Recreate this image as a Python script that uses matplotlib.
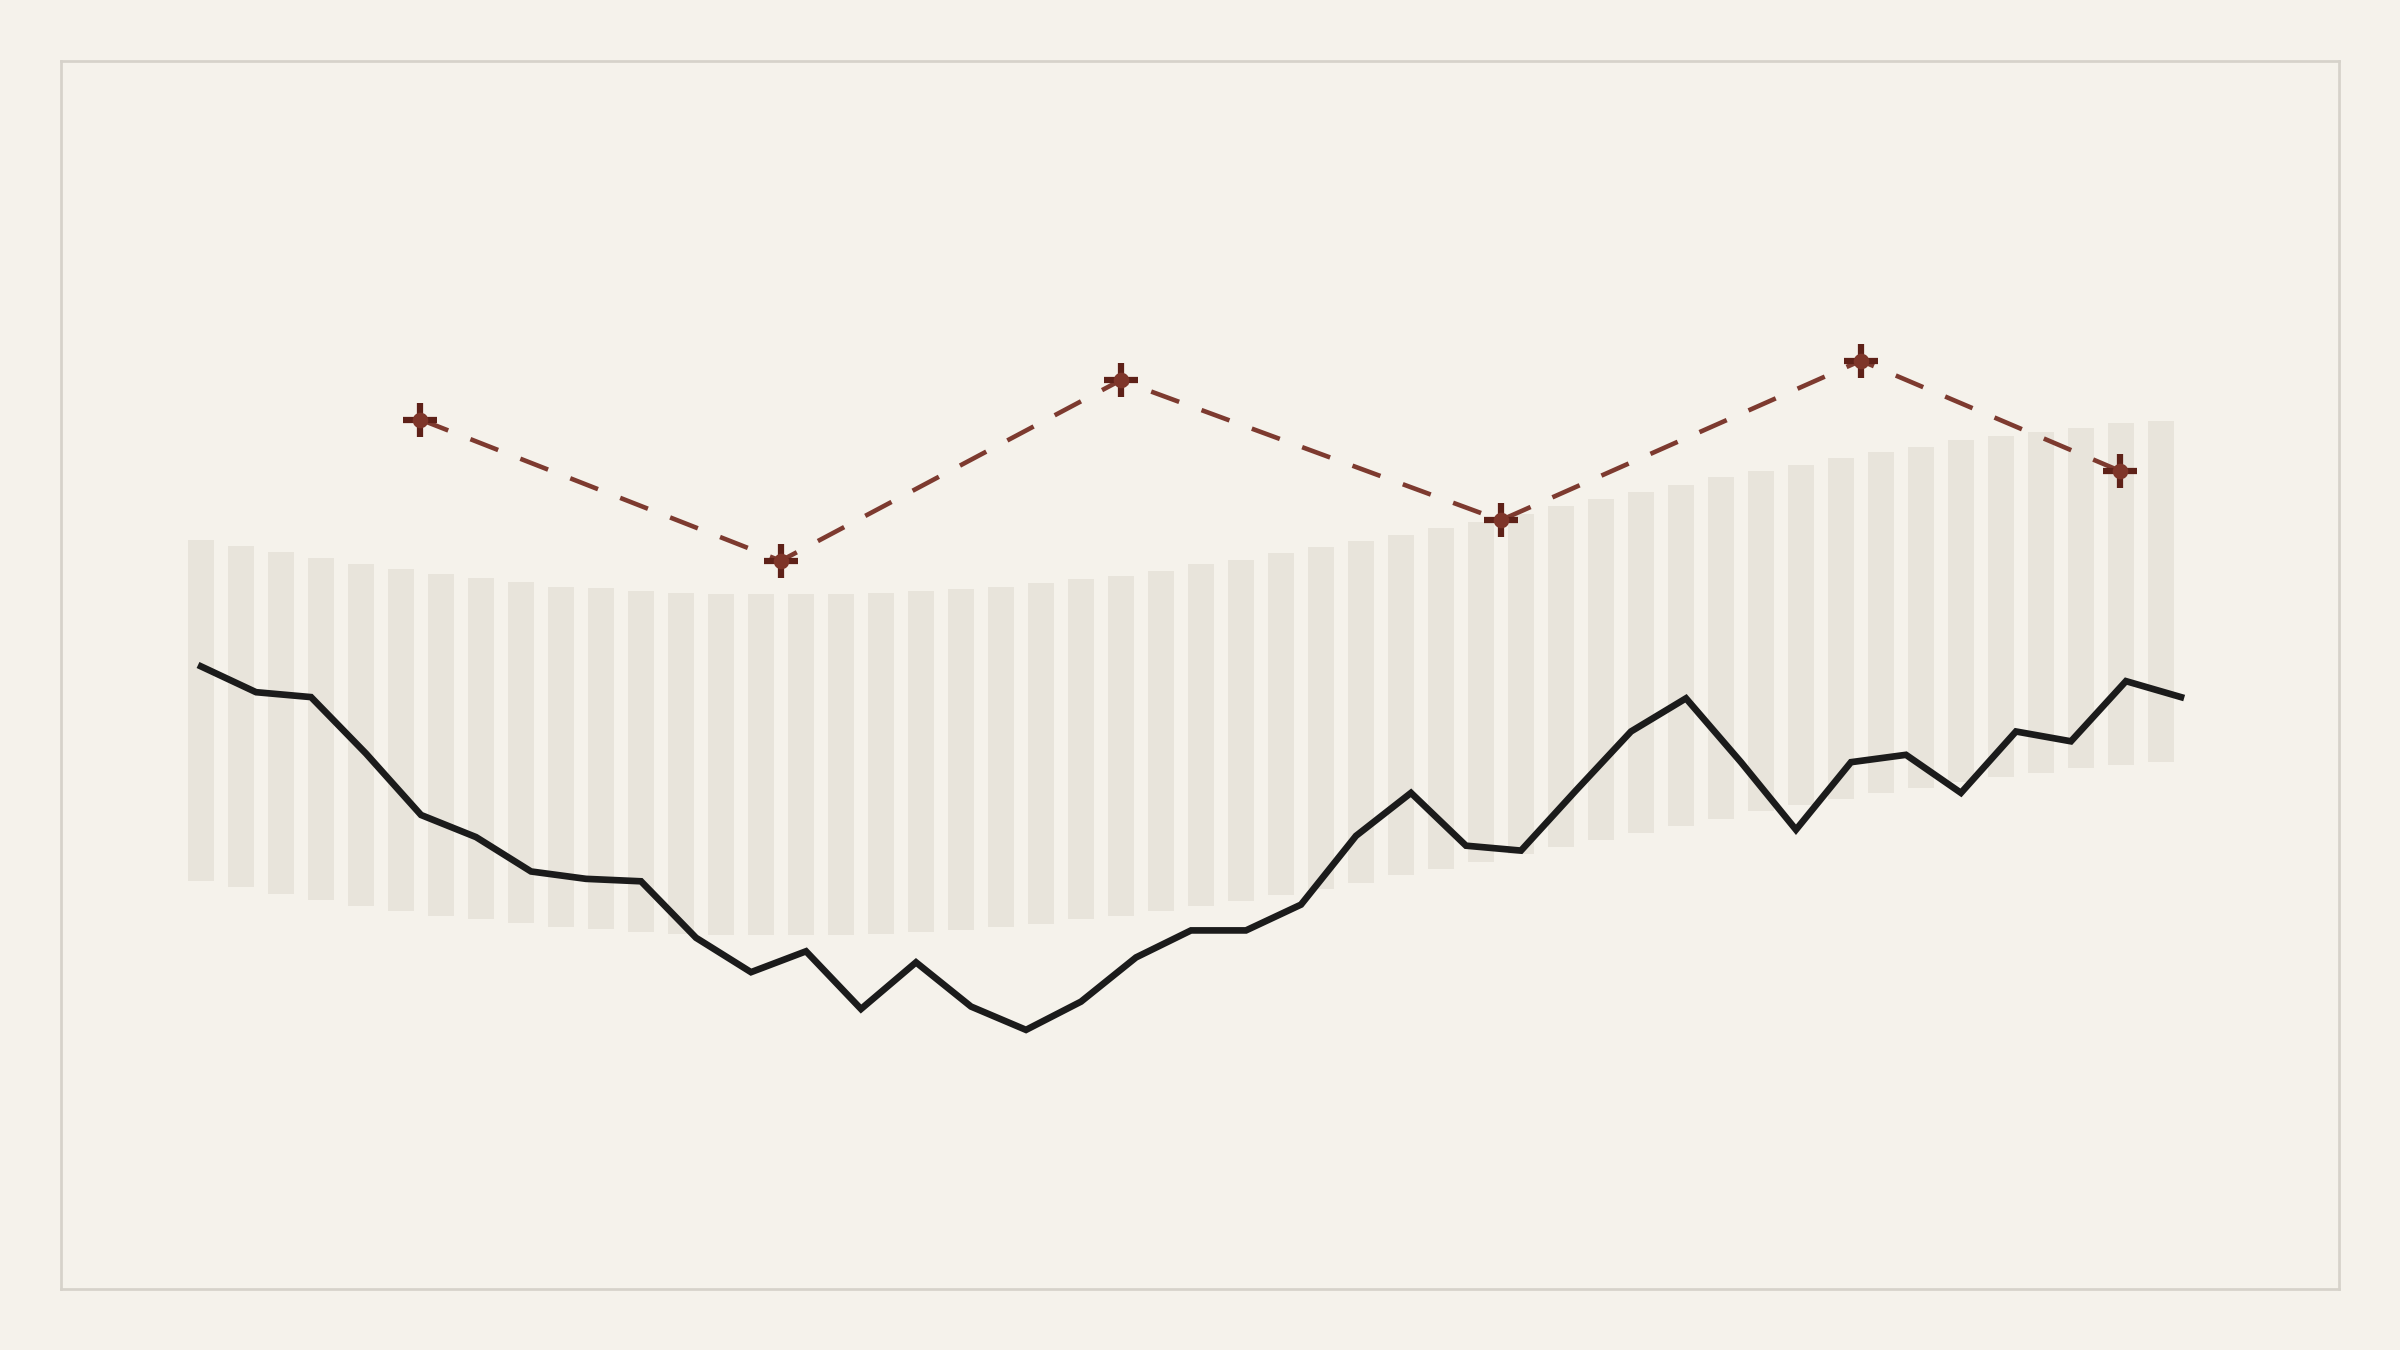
import numpy as np
import matplotlib.pyplot as plt

# Background band (floating bars): lower and upper edge per bar
band_low = [33.2, 32.7, 32.2, 31.7, 31.2, 30.8, 30.4, 30.1, 29.8, 29.5,
            29.3, 29.1, 28.9, 28.8, 28.8, 28.8, 28.8, 28.9, 29.1, 29.2,
            29.5, 29.7, 30.1, 30.4, 30.8, 31.2, 31.6, 32.1, 32.6, 33.1,
            33.7, 34.2, 34.8, 35.4, 36.0, 36.6, 37.1, 37.7, 38.3, 38.9,
            39.4, 39.9, 40.4, 40.8, 41.3, 41.7, 42.0, 42.4, 42.7, 42.9]
band_high = [61.0, 60.5, 60.0, 59.5, 59.0, 58.6, 58.2, 57.9, 57.6, 57.2,
             57.1, 56.8, 56.7, 56.6, 56.6, 56.6, 56.6, 56.7, 56.8, 57.0,
             57.2, 57.5, 57.8, 58.1, 58.5, 59.0, 59.4, 59.9, 60.4, 60.9,
             61.4, 62.0, 62.5, 63.1, 63.8, 64.3, 64.9, 65.5, 66.1, 66.6,
             67.1, 67.7, 68.2, 68.6, 69.1, 69.5, 69.8, 70.1, 70.5, 70.7]

# Main series (black line)
series = [50.7, 48.6, 48.2, 43.6, 38.6, 36.8, 34.0, 33.4, 33.2, 28.6,
          25.8, 27.5, 22.8, 26.6, 23.0, 21.1, 23.4, 27.0, 29.2, 29.2,
          31.3, 36.9, 40.4, 36.1, 35.7, 40.6, 45.4, 48.1, 42.9, 37.4,
          42.9, 43.5, 40.4, 45.4, 44.6, 49.5, 48.2]

# Sparse checkpoints (dashed red line)
check_x = [3.99, 10.54, 16.72, 23.63, 30.18, 34.90]
check_y = [70.8, 59.3, 74.0, 62.6, 75.6, 66.6]

BG = '#f5f2eb'

fig = plt.figure(figsize=(16, 9), dpi=150, facecolor=BG)
ax = fig.add_axes([0.0254, 0.0452, 0.9491, 0.9096])
ax.set_facecolor(BG)

low = np.array(band_low)
high = np.array(band_high)
bar_x = np.linspace(0, 35.64, len(low))
ax.bar(bar_x, high - low, bottom=low, width=0.478, color='#e8e4db',
       linewidth=0, zorder=1)

line_x = np.arange(len(series))
ax.plot(line_x, series, color='#1b1b1b', lw=3.2, solid_joinstyle='miter',
        zorder=3)

ax.plot(check_x, check_y, color='#7d3a2f', lw=2.2, ls=(0, (6.5, 5.2)),
        zorder=4)
ax.plot(check_x, check_y, ls='none', marker='+', ms=16, mew=3,
        color='#5e2118', zorder=5)
ax.plot(check_x, check_y, ls='none', marker='o', ms=7.5, mew=0,
        color='#7e3529', zorder=6)

ax.set_xlim(-2.547, 38.87)
ax.set_ylim(0, 100)
ax.set_xticks([])
ax.set_yticks([])
for s in ax.spines.values():
    s.set_color('#d6d2ca')
    s.set_linewidth(1.3)

fig.savefig('out.png', dpi=150, facecolor=BG)
